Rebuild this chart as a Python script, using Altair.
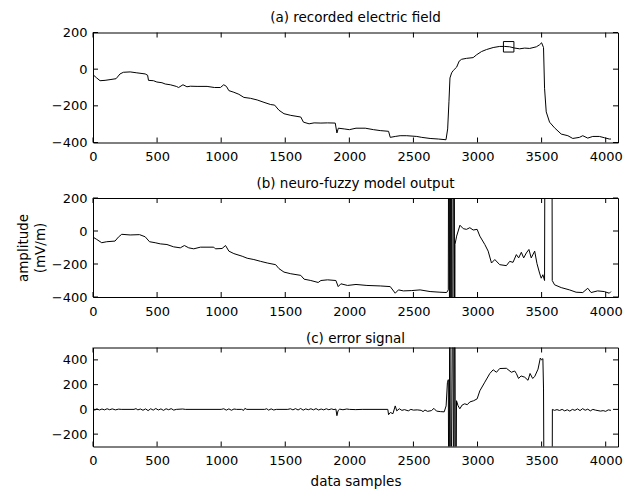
import altair as alt
import pandas as pd

FONT = "DejaVu Sans"

# ---------------- data ----------------
x_ticks = [0, 500, 1000, 1500, 2000, 2500, 3000, 3500, 4000]
ab_ticks = [-400, -200, 0, 200]
c_ticks = [-200, 0, 200, 400]

# (a) recorded electric field
a_x = [0, 29, 55, 94, 133, 180, 211, 237, 290, 342, 407, 426, 433, 472, 498, 538, 564, 603, 650, 668,
       702, 733, 760, 812, 890, 947, 994, 1020, 1041, 1060, 1099, 1138, 1177, 1229, 1281, 1334, 1386, 1417,
       1451, 1490, 1543, 1621, 1642, 1686, 1725, 1778, 1830, 1890, 1903, 1914, 1960, 2000, 2052, 2124, 2189,
       2241, 2306, 2319, 2358, 2396, 2448, 2526, 2565, 2630, 2694, 2754, 2767, 2777, 2785, 2798, 2811, 2837,
       2857, 2876, 2914, 2966, 2992, 3031, 3070, 3122, 3173, 3212, 3251, 3290, 3329, 3368, 3407, 3459, 3484,
       3500, 3515, 3523, 3536, 3562, 3601, 3653, 3705, 3743, 3795, 3821, 3860, 3899, 3951, 3990, 4028, 4041]
a_y = [-30, -48, -63, -61, -57, -52, -26, -17, -15, -20, -26, -33, -61, -63, -70, -74, -81, -85, -94, -100,
       -85, -96, -93, -94, -94, -100, -100, -85, -94, -117, -126, -137, -154, -159, -168, -181, -193, -196,
       -224, -243, -252, -261, -289, -298, -293, -294, -293, -294, -348, -322, -326, -330, -322, -322, -330,
       -335, -339, -372, -367, -363, -363, -367, -372, -378, -381, -385, -326, -178, -48, -20, -7, 11,
       44, 54, 59, 63, 78, 96, 107, 118, 124, 124, 122, 115, 111, 115, 113, 122, 133,
       144, 118, -104, -233, -289, -320, -354, -363, -378, -372, -363, -376, -367, -367, -374, -381, -381]
marker_x = [3243]
marker_y = [122]

# (b) neuro-fuzzy model output
b_x = [0, 29, 68, 107, 172, 198, 224, 290, 363, 407, 441, 485, 525, 577, 629, 681, 713, 747, 786, 838,
       942, 955, 1007, 1034, 1060, 1099, 1164, 1203, 1255, 1308, 1360, 1425, 1451, 1490, 1543, 1621, 1647,
       1699, 1757, 1778, 1830, 1895, 1913, 1934, 1986, 2052, 2137, 2241, 2319, 2358, 2383, 2422, 2487, 2552,
       2630, 2707, 2759, 2772, 2778, 2783, 2788, 2793, 2798, 2803, 2818, 2822, 2824, 2837, 2863, 2889, 2914,
       2940, 2966, 2997, 3018, 3057, 3083, 3109, 3135, 3173, 3225, 3251, 3277, 3303, 3321, 3342, 3360, 3381,
       3401, 3419, 3446, 3464, 3484, 3497, 3510, 3523, 3530, 3578, 3583, 3601, 3653, 3718, 3769, 3821, 3860,
       3886, 3937, 3989, 4028, 4041]
b_y = [-37, -51, -71, -65, -61, -37, -20, -24, -22, -35, -65, -71, -78, -82, -96, -102, -88, -102, -108, -98,
       -98, -108, -106, -88, -122, -137, -153, -165, -173, -184, -194, -204, -228, -249, -259, -269, -292,
       -300, -312, -300, -296, -300, -337, -320, -330, -324, -330, -333, -337, -377, -357, -363, -361, -357,
       -367, -371, -373, -357, 2000, -2000, 2000, -2000, 2000, -2000, 2000, -2000, -82, -31, 35, 14, 10,
       20, 6, 10, -31, -82, -122, -194, -173, -204, -210, -184, -190, -143, -163, -129, -163, -133,
       -112, -163, -122, -198, -255, -286, -265, -300, 2000, 2000, -300, -326, -343, -357, -371, -373, -347,
       -373, -363, -367, -377, -367]

# (c) error signal  (x, y) pairs
c_pts = [(0, 0), (15, -6), (30, 4), (50, -5), (70, 3), (90, -4), (110, 5), (130, -3), (150, 4), (175, -4),
         (200, 2), (220, 0), (320, 0), (335, 6), (350, -4), (370, 3), (390, -7), (410, 4), (430, -10),
         (450, 5), (470, -6), (490, 7), (510, -5), (530, 4), (550, -8), (570, 5), (590, -3), (610, 6),
         (630, -6), (650, 0), (700, 3), (720, 0), (1000, 0), (1020, 5), (1040, -6), (1060, 4), (1080, -7),
         (1100, 3), (1120, 0), (1160, 0), (1175, -8), (1185, 8), (1200, 0), (1340, 0), (1355, 5),
         (1370, -6), (1390, 4), (1410, -5), (1430, 0), (1520, 0), (1540, 5), (1560, -4), (1580, 6),
         (1600, -5), (1620, 7), (1640, -6), (1660, 4), (1680, -3), (1700, 5), (1720, -4), (1740, 6),
         (1760, -5), (1780, 3), (1800, -4), (1820, 5), (1840, -3), (1860, 4), (1880, -2), (1895, 3),
         (1903, -51), (1912, -10), (1925, 2), (1950, -3), (1980, 3), (2000, 0), (2050, -2), (2100, 0),
         (2300, 0), (2306, -43), (2320, -25), (2340, -35), (2358, 28), (2370, -12), (2390, 5), (2410, -8),
         (2430, -2), (2460, -12), (2480, 0), (2500, -6), (2530, -4), (2560, -8), (2575, -18), (2590, -5),
         (2610, -16), (2640, -10), (2660, 8), (2680, -14), (2710, -18), (2740, -20), (2755, 28), (2765, 215),
         (2772, 240), (2778, -1500), (2784, 1500), (2790, -1500), (2808, 1500), (2814, -1500), (2822, 1500),
         (2830, -1500), (2836, 70), (2848, 30), (2862, 5), (2880, 35),
         (2900, 45), (2920, 38), (2940, 60), (2970, 70), (2997, 85), (3018, 150), (3057, 220), (3096, 290),
         (3122, 320), (3148, 300), (3173, 330), (3225, 332), (3264, 300), (3290, 310), (3303, 290),
         (3320, 250), (3340, 270), (3368, 260), (3394, 235), (3410, 290), (3430, 250), (3446, 265),
         (3472, 325), (3490, 415), (3500, 400), (3510, 410), (3515, 165), (3522, -1500), (3580, -1500),
         (3584, 0), (3600, -8), (3620, -2), (3640, -9), (3660, 0), (3680, -12), (3700, -3), (3720, -14),
         (3740, 0), (3760, -8), (3780, 4), (3800, -10), (3820, 6), (3840, -7), (3860, 2), (3880, -12),
         (3900, 0), (3920, -6), (3940, -10), (3960, -14), (3980, -10), (4000, -16), (4020, -4), (4041, -8)]

# ---------------- chart ----------------
df_a = pd.DataFrame({"x": a_x, "y": a_y})
df_b = pd.DataFrame({"x": b_x, "y": b_y})
df_c = pd.DataFrame({"x": [p[0] for p in c_pts], "y": [p[1] for p in c_pts]})
df_m = pd.DataFrame({"x": marker_x, "y": marker_y})
df_xt = pd.DataFrame({"x": x_ticks})

W = 525
TL = 5  # inward tick length

AX = dict(grid=False, domain=False, ticks=False, labelFont=FONT, labelFontSize=13, labelColor="black",
          labelFlush=False, labelOverlap=False, format="d", titleFont=FONT, titleFontSize=13.5,
          titleFontWeight="normal", titleColor="black")


def panel(df, ydom, yticks, title, height, ytitle=None, xtitle=None, marker=False):
    xs = alt.Scale(domain=[0, 4096], nice=False, zero=False)
    ys = alt.Scale(domain=ydom, nice=False, zero=False)
    xaxis = alt.Axis(orient="bottom", values=x_ticks, labelPadding=8, titlePadding=7, **AX)
    yaxis = alt.Axis(orient="left", values=yticks, labelPadding=6, titlePadding=4,
                     titleLineHeight=17, **AX)

    def X():
        return alt.X("x:Q", scale=xs, title=xtitle, axis=xaxis)

    def Y():
        return alt.Y("y:Q", scale=ys, title=ytitle, axis=yaxis)

    df_yt = pd.DataFrame({"y": yticks})
    main = alt.Chart(df).mark_line(color="black", strokeWidth=1, clip=True).encode(x=X(), y=Y())
    rule = dict(color="black", strokeWidth=1)
    xb = alt.Chart(df_xt).mark_rule(**rule).encode(x=X(), y=alt.value(height - TL), y2=alt.value(height))
    xt = alt.Chart(df_xt).mark_rule(**rule).encode(x=X(), y=alt.value(0), y2=alt.value(TL))
    yl = alt.Chart(df_yt).mark_rule(**rule).encode(y=Y(), x=alt.value(0), x2=alt.value(TL))
    yr = alt.Chart(df_yt).mark_rule(**rule).encode(y=Y(), x=alt.value(W - TL), x2=alt.value(W))
    layers = [main, xb, xt, yl, yr]
    if marker:
        layers.append(
            alt.Chart(df_m).mark_point(shape="square", filled=False, size=110, color="black",
                                       strokeWidth=1, opacity=1).encode(x=X(), y=Y()))
    return alt.layer(*layers).properties(
        width=W, height=height,
        title=alt.TitleParams(title, font=FONT, fontSize=13.5, fontWeight="normal", color="black",
                              anchor="middle", offset=2, frame="group"),
    )


pa = panel(df_a, [-400, 200], ab_ticks, "(a) recorded electric field", 110, marker=True)
pb = panel(df_b, [-400, 200], ab_ticks, "(b) neuro-fuzzy model output", 99,
           ytitle=["amplitude", "(mV/m)"])
pc = panel(df_c, [-300, 500], c_ticks, "(c) error signal", 99, xtitle="data samples")

chart = alt.vconcat(pa, pb, pc, spacing=11.5).properties(
    padding={"left": 7, "top": 2.5, "right": 2, "bottom": 0},
    background="white",
).configure_view(stroke="black", strokeWidth=1)

chart.save("out.html", embed_options={"renderer": "svg", "actions": False})
